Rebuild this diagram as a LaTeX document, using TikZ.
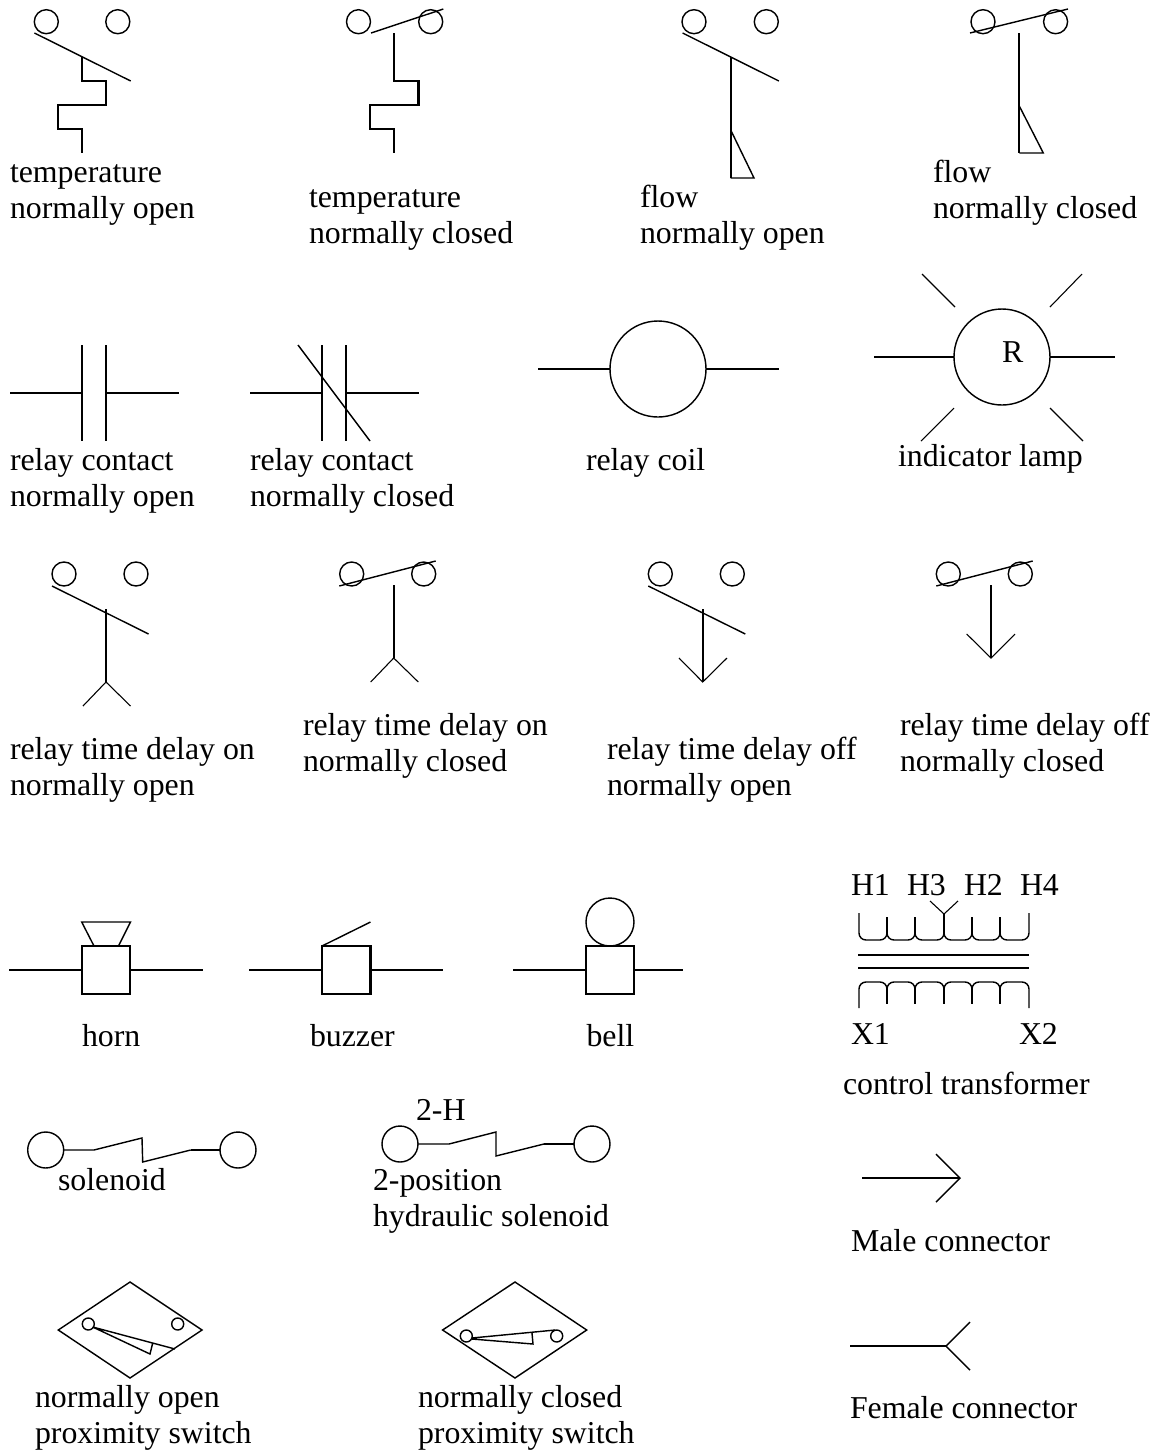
\documentclass[tikz,border=0pt]{standalone}
\usepackage{fontspec}
\setmainfont{Liberation Serif}
\tikzset{
  sym/.style={line width=1.25pt,line join=miter},
  fine/.style={line width=0.85pt,line join=miter},
  thin line/.style={line width=0.65pt,line join=miter},
  lbl/.style={anchor=base west,inner sep=0pt,outer sep=0pt,align=left,yshift=-1.1pt,font=\fontsize{19.1}{21.6}\selectfont}
}
\newcommand{\terms}[4]{\draw[fine] (#1,#3) circle[radius=#4] (#2,#3) circle[radius=#4];}
\begin{document}
\begin{tikzpicture}[x=0.6pt,y=-0.6pt]
\useasboundingbox (0,0) rectangle (1159,1451);
% ---------- row 1
\terms{46.3}{117.8}{21.7}{12}
\draw[fine] (34.4,33) -- (130.7,81);
\draw[sym] (82,57) |- (106.3,81) |- (58.1,105) |- (82,129) -- (82,153);
\node[lbl] (t1) at (10,217) {temperature\\normally open};
\terms{358.5}{430.7}{21.7}{12}
\draw[fine] (371,33) -- (443.3,9);
\draw[sym] (394.4,33) |- (418.5,81) |- (370.4,105) |- (394.4,129) -- (394.4,153);
\node[lbl] (t2) at (309,242) {temperature\\normally closed};
\terms{694}{766.3}{21.7}{12}
\draw[fine] (682.6,33) -- (778.9,81);
\draw[sym] (730.7,57) -- (730.7,178);
\draw[fine] (730.7,130) -- (754,178) -- (730.7,178);
\node[lbl] (t3) at (640,242) {flow\\normally open};
\terms{983}{1055.6}{21.7}{12}
\draw[fine] (970,33) -- (1068,9);
\draw[sym] (1019.3,33) -- (1019.3,153);
\draw[fine] (1019.3,106) -- (1043.3,153) -- (1019.3,153);
\node[lbl] (t4) at (933,217) {flow\\normally closed};
% ---------- row 2
\draw[sym] (10,393) -- (82,393) (82,345) -- (82,441) (106,345) -- (106,441) (106,393) -- (179,393);
\node[lbl] (t5) at (10,505) {relay contact\\normally open};
\draw[sym] (250,393) -- (322,393) (322,345) -- (322,441) (346,345) -- (346,441) (346,393) -- (419,393);
\draw[fine] (298,345) -- (370,441);
\node[lbl] (t6) at (250,505) {relay contact\\normally closed};
\draw[sym] (538,369) -- (610,369) (706,369) -- (779,369);
\draw[fine] (658,369) circle[radius=48];
\node[lbl] (t7) at (586,469) {relay coil};
\draw[sym] (874,357) -- (954,357) (1050,357) -- (1115,357);
\draw[fine] (1002,357) circle[radius=48];
\node[lbl] (tr) at (1002,361) {R};
\draw[thin line] (922,274) -- (955,307) (1082,274) -- (1050,307) (954,408) -- (921,441) (1050,408) -- (1083,441);
\node[lbl] (t8) at (898,465) {indicator lamp};
% ---------- row 3
\terms{64}{136}{574}{12}
\draw[fine] (52,586) -- (148.6,634);
\draw[sym] (106,609) -- (106,682);
\draw[thin line] (83,706) -- (106,682) -- (130.5,706);
\node[lbl] (t9) at (10,794) {relay time delay on\\normally open};
\terms{351.7}{423.7}{574}{12}
\draw[fine] (339.3,586) -- (435.7,561);
\draw[sym] (393.7,585) -- (393.7,658);
\draw[thin line] (370.7,682) -- (393.7,658) -- (418.3,682);
\node[lbl] (t10) at (303,770) {relay time delay on\\normally closed};
\terms{660.3}{732.3}{574}{12}
\draw[fine] (648.3,586) -- (745.3,634);
\draw[sym] (702.7,609) -- (702.7,682);
\draw[thin line] (679,658) -- (702.7,682) -- (727,658);
\node[lbl] (t11) at (607,794) {relay time delay off\\normally open};
\terms{948.3}{1020.3}{574}{12}
\draw[fine] (936.3,586) -- (1032.7,561);
\draw[sym] (991,585) -- (991,658);
\draw[thin line] (966.7,634) -- (991,658) -- (1015,634);
\node[lbl] (t12) at (900,770) {relay time delay off\\normally closed};
% ---------- row 4
\draw[sym] (9,970) -- (81.7,970) (130,970) -- (203,970);
\draw[sym] (81.7,946) rectangle (130,994);
\draw[fine] (94,946) -- (81.7,922) -- (130.5,922) -- (118.5,946);
\node[lbl] (t13) at (82,1045) {horn};
\draw[sym] (249,970) -- (322,970) (370.5,970) -- (443,970);
\draw[sym] (322,946) rectangle (370.5,994);
\draw[fine] (322,946) -- (370.5,922);
\node[lbl] (t14) at (310,1045) {buzzer};
\draw[sym] (513.4,970) -- (585.7,970) (634,970) -- (683,970);
\draw[sym] (585.7,946) rectangle (634,994);
\draw[fine] (610,922) circle[radius=24];
\node[lbl] (t15) at (586.5,1045) {bell};
% ---------- solenoids
\draw[fine] (45.7,1150) circle[radius=18] (238,1150) circle[radius=18];
\draw[fine] (64,1150) -- (94,1150) -- (142,1138) -- (142.7,1162) -- (190.7,1150);
\draw[sym] (190.7,1150) -- (220,1150);
\node[lbl] (t16) at (58,1189) {solenoid};
\draw[fine] (400,1144) circle[radius=18] (592,1144) circle[radius=18];
\draw[fine] (418,1144) -- (449,1144) -- (496,1132) -- (496,1156) -- (544,1144);
\draw[sym] (544,1144) -- (574,1144);
\node[lbl] (t17) at (416,1119) {2-H};
\node[lbl] (t18) at (373,1225) {2-position\\hydraulic solenoid};
% ---------- transformer
\node[lbl] (h1) at (851,894) {H1};
\node[lbl] (h3) at (907,894) {H3};
\node[lbl] (h2) at (964,894) {H2};
\node[lbl] (h4) at (1020,894) {H4};
\draw[thin line] (930,901) -- (944,914) -- (958,901);
\draw[fine] (859,913) -- (859,933) to[out=-90,in=180] (866,940) -- (880,940) to[out=0,in=-90] (887,933)
  to[out=-90,in=180] (894,940) -- (908,940) to[out=0,in=-90] (915,933)
  to[out=-90,in=180] (922,940) -- (937,940) to[out=0,in=-90] (944,933)
  to[out=-90,in=180] (951,940) -- (965,940) to[out=0,in=-90] (972,933)
  to[out=-90,in=180] (979,940) -- (993,940) to[out=0,in=-90] (1000,933)
  to[out=-90,in=180] (1007,940) -- (1022,940) to[out=0,in=-90] (1029,933) -- (1029,913);
\draw[fine] (887,933) -- (887,917) (915,933) -- (915,917) (944,933) -- (944,914) (972,933) -- (972,917) (1000,933) -- (1000,917);
\draw[sym] (858,955) -- (1029,955) (858,968) -- (1029,968);
\draw[fine] (859,1008) -- (859,989) to[out=90,in=180] (866,982) -- (880,982) to[out=0,in=90] (887,989)
  to[out=90,in=180] (894,982) -- (908,982) to[out=0,in=90] (915,989)
  to[out=90,in=180] (922,982) -- (937,982) to[out=0,in=90] (944,989)
  to[out=90,in=180] (951,982) -- (965,982) to[out=0,in=90] (972,989)
  to[out=90,in=180] (979,982) -- (993,982) to[out=0,in=90] (1000,989)
  to[out=90,in=180] (1007,982) -- (1022,982) to[out=0,in=90] (1029,989) -- (1029,1008);
\draw[fine] (887,989) -- (887,1004) (915,989) -- (915,1004) (944,989) -- (944,1004) (972,989) -- (972,1004) (1000,989) -- (1000,1004);
\node[lbl] (x1) at (851,1043) {X1};
\node[lbl] (x2) at (1019,1043) {X2};
\node[lbl] (t19) at (843,1093) {control transformer};
% ---------- connectors
\draw[sym] (862,1178) -- (959,1178);
\draw[fine] (936,1154) -- (960,1178) -- (936,1202);
\node[lbl] (t20) at (851,1250) {Male connector};
\draw[sym] (850,1346) -- (946,1346);
\draw[fine] (970,1322) -- (946,1346) -- (970,1370);
\node[lbl] (t21) at (850,1417) {Female connector};
% ---------- proximity
\draw[fine] (58.3,1330) -- (130,1282) -- (202,1330) -- (130,1378) -- cycle;
\draw[fine] (88.3,1324) circle[radius=6] (177.7,1324) circle[radius=6];
\draw[fine] (92.7,1327) -- (175,1349) (92.7,1327) -- (150,1354) -- (152.7,1343);
\node[lbl] (t22) at (35,1442) {normally open\\proximity switch};
\draw[fine] (442.6,1330) -- (515,1282) -- (586.7,1330) -- (515,1378) -- cycle;
\draw[fine] (466.3,1336) circle[radius=6] (556.7,1336) circle[radius=6];
\draw[fine] (471.9,1338) -- (555.2,1330) (471.9,1339) -- (533,1344) -- (531.9,1332);
\node[lbl] (t23) at (418,1442) {normally closed\\proximity switch};
\end{tikzpicture}
\end{document}
